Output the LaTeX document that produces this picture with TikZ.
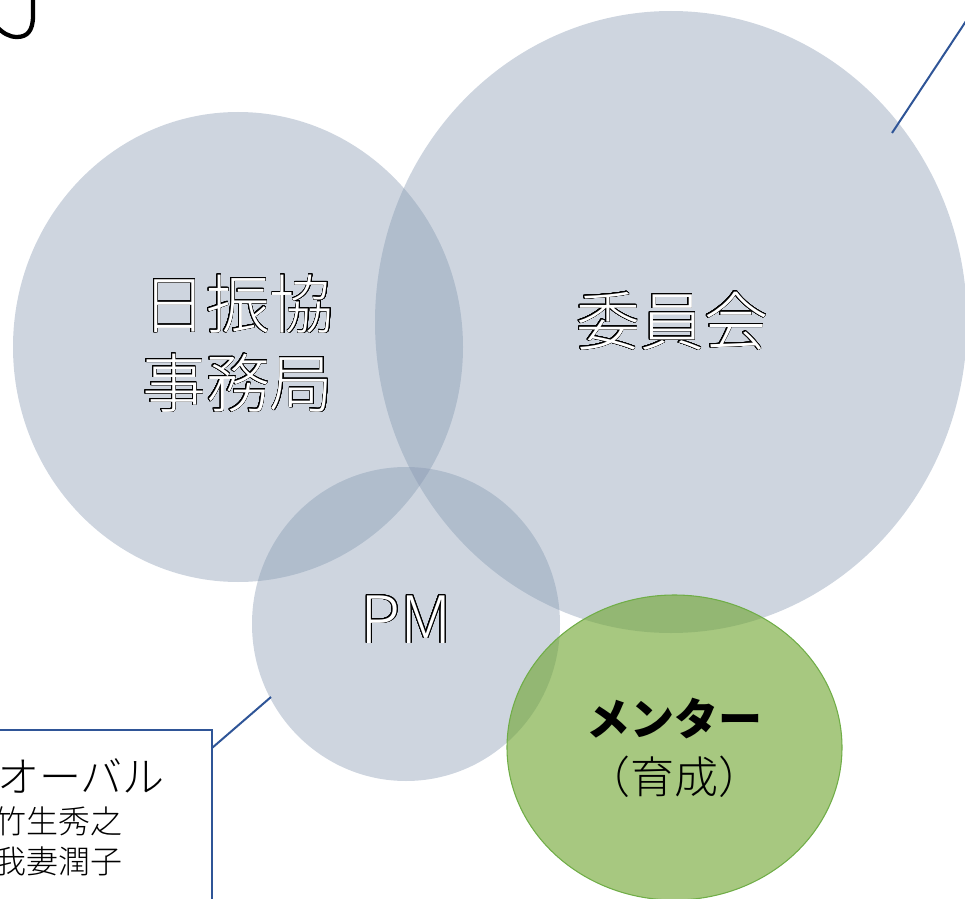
\documentclass[tikz,border=0pt]{standalone}
\usepackage{fontspec}
\newfontfamily\jp{Noto Sans CJK JP}
\newfontfamily\jplight{Noto Sans CJK JP Light}
\usepackage[copies]{contour}
\contourlength{0.6pt}
\contournumber{32}
\usetikzlibrary{shapes.geometric}
\definecolor{blobc}{HTML}{8497B0}
\definecolor{mgreen}{HTML}{6CA32B}
\definecolor{mgreenline}{HTML}{70AD47}
\definecolor{callblue}{HTML}{2F5597}
\tikzset{
  blob/.style={ellipse, fill=blobc, fill opacity=0.4, draw=none, inner sep=0pt, outer sep=0pt},
  mentor/.style={ellipse, fill=mgreen, fill opacity=0.6, draw=mgreenline, draw opacity=1, line width=0.8pt, inner sep=0pt, outer sep=0pt},
  biglabel/.style={font=\jplight\fontsize{48}{57}\selectfont, text=white, anchor=base, inner sep=0pt},
  pmlabel/.style={font=\jplight\fontsize{49}{57}\selectfont, text=white, anchor=base, inner sep=0pt},
  mlabel/.style={font=\jp\fontsize{33}{45}\selectfont, text=black, anchor=base, inner sep=0pt},
  mlabellight/.style={font=\jplight\fontsize{33}{45}\selectfont, text=black, anchor=base, inner sep=0pt},
  boxtitle/.style={font=\jplight\fontsize{31.5}{40}\selectfont, text=black, anchor=base west, inner sep=0pt},
  boxname/.style={font=\jplight\fontsize{24}{30}\selectfont, text=black, anchor=base west, inner sep=0pt},
  callbox/.style={draw=callblue, line width=1.5pt, fill=white, inner sep=0pt, outer sep=0pt},
  callout/.style={draw=callblue, line width=1.5pt},
}
\begin{document}
\begin{tikzpicture}[x=0.75pt,y=-0.75pt]
\useasboundingbox (0,0) rectangle (965,899);
\clip (0,0) rectangle (965,899);
% fragment of a glyph top-left
\draw[line width=3.2pt, line cap=round] (33,-4) -- (33,16) .. controls (33,31) and (27,37) .. (17,37) .. controls (9,37) and (3,33) .. (-3,27);
% circles
\node[blob, minimum width=337.5pt, minimum height=352.5pt] (jimu) at (238,347) {};
\node[blob, minimum width=444pt, minimum height=466.5pt] (iin) at (671,322) {};
\node[blob, minimum width=231pt, minimum height=235.5pt] (pm) at (406,624) {};
\node[mentor, minimum width=251.25pt, minimum height=228.75pt] (ment) at (674.5,747.5) {};
% labels
\node[biglabel] (t1) at (238,328) {\contour{black}{日振協}};
\node[biglabel] (t2) at (238,407) {\contour{black}{事務局}};
\node[biglabel] (t3) at (672,345) {\contour{black}{委員会}};
\node[pmlabel] (t4) at (406,643) {\contour{black}{PM}};
\node[mlabel] (t5) at (674,735) {\bfseries メンター};
\node[mlabellight] (t6) at (674,793) {（育成）};
% callout box bottom-left
\node[callbox, minimum width=234pt, minimum height=165pt] (box) at (56,840) {};
\node[boxtitle] (b1) at (-3,792) {オーバル};
\node[boxname] (b2) at (-6,833) {竹生秀之};
\node[boxname] (b3) at (-6,873) {我妻潤子};
\coordinate (boxtip) at (212,748);
\coordinate (pmtip) at (271,697);
\draw[callout] (boxtip) -- (pmtip);
% callout top-right
\coordinate (iintip) at (892,133);
\coordinate (offtop) at (978,3);
\draw[callout] (iintip) -- (offtop);
\end{tikzpicture}
\end{document}
